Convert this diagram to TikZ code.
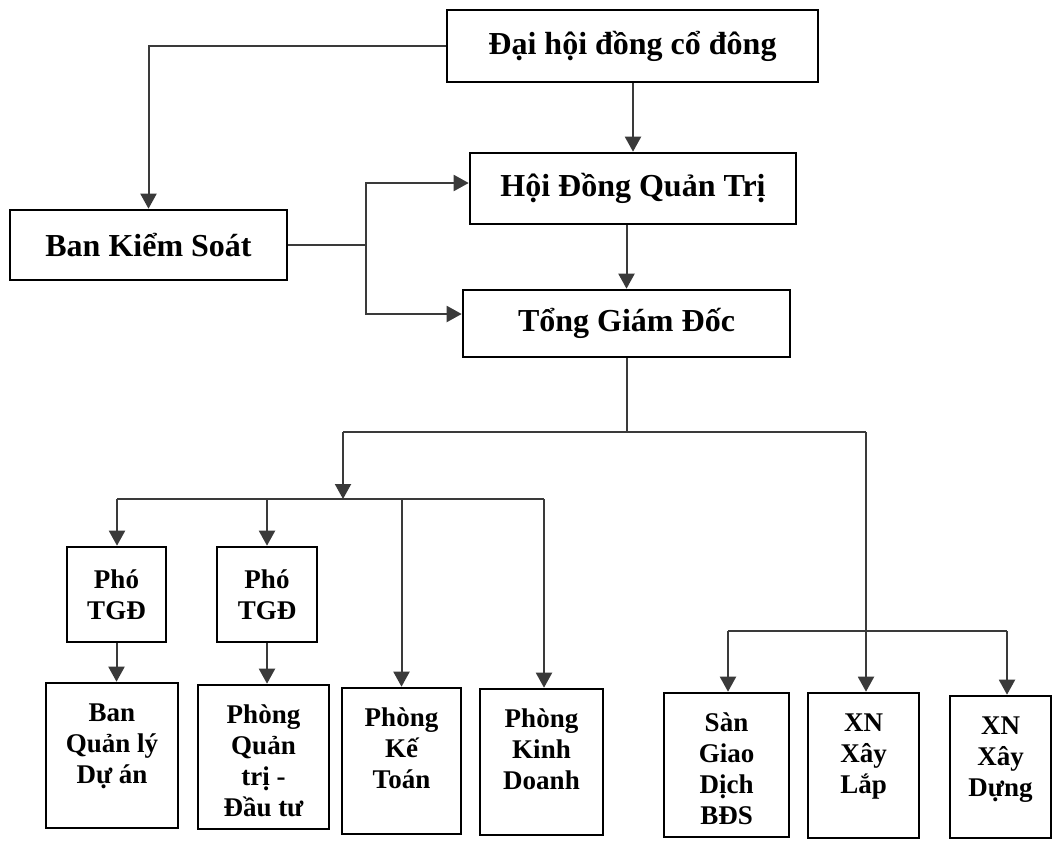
\documentclass[tikz,border=0pt]{standalone}
\usepackage{fontspec}
\setmainfont{Liberation Serif}
\usetikzlibrary{arrows.meta,calc}
\definecolor{linegray}{HTML}{3A3A3A}
\tikzset{
  >={Triangle[width=8pt,length=7.5pt]},
  link/.style={draw=linegray, line width=1pt},
  bigbox/.style={draw, line width=1.3pt, align=center,
    font=\fontsize{16}{19}\selectfont\bfseries},
  phobox/.style={draw, line width=1.3pt, align=center,
    minimum width=50pt, minimum height=47.5pt,
    font=\fontsize{13.5}{15.5}\selectfont\bfseries},
  unitbox/.style 2 args={draw, line width=1.3pt, inner sep=0pt,
    font=\fontsize{13.5}{15.5}\selectfont\bfseries,
    execute at begin node={\begin{minipage}[c][#2][t]{#1}\centering\vspace*{8.6pt}\strut},
    execute at end node={\end{minipage}}},
}
\begin{document}
\begin{tikzpicture}[x=0.5pt,y=-0.5pt]
\useasboundingbox (0,0) rectangle (1052,840);

\node[bigbox, minimum width=185.5pt, minimum height=36pt] (dhd) at (632.5,46) {Đại hội đồng cổ đông};
\node[bigbox, minimum width=138.5pt, minimum height=35pt] (bks) at (148.5,245) {Ban Kiểm Soát};
\node[bigbox, minimum width=163pt, minimum height=35.5pt] (hdqt) at (633,188.5) {Hội Đồng Quản Trị};
\node[bigbox, minimum width=163.5pt, minimum height=33.5pt] (tgd) at (626.5,323.5) {Tổng Giám Đốc};

\node[phobox, minimum width=49.5pt] (pho1) at (116.5,594.5) {Phó\\TGĐ};
\node[phobox] (pho2) at (267,594.5) {Phó\\TGĐ};

\node[unitbox={66pt}{72.5pt}] (banql) at (112,755.5) {Ban\\Quản lý\\Dự án};
\node[unitbox={65.5pt}{72pt}] (pqtdt) at (263.5,757) {Phòng\\Quản\\trị -\\Đầu tư};
\node[unitbox={59.5pt}{73pt}] (pkt) at (401.5,761) {Phòng\\Kế\\Toán};
\node[unitbox={61.5pt}{73pt}] (pkd) at (541.5,762) {Phòng\\Kinh\\Doanh};
\node[unitbox={62.5pt}{72pt}] (san) at (726.5,765) {Sàn\\Giao\\Dịch\\BĐS};
\node[unitbox={55.5pt}{72.5pt}] (xnxl) at (863.5,765.5) {XN\\Xây\\Lắp};
\node[unitbox={50.5pt}{71pt}] (xnxd) at (1000.5,767) {XN\\Xây\\Dựng};

\coordinate (split) at (366,245);
\coordinate (bus1l) at (343,432);
\coordinate (bus1r) at (866,432);
\coordinate (bus2l) at (117,499);
\coordinate (bus2r) at (544,499);
\coordinate (bus3l) at (728,631);
\coordinate (bus3r) at (1007,631);

\draw[link,->] (dhd.west) -| (bks.north);
\draw[link,->] (dhd.south -| hdqt.north) -- (hdqt.north);
\draw[link,->] (hdqt.south -| tgd.north) -- (tgd.north);
\draw[link] (bks.east) -- (split);
\draw[link,->] (split) |- ([yshift=2.75pt]hdqt.west);
\draw[link,->] (split) |- ([yshift=4.75pt]tgd.west);

\draw[link] (tgd.south) -- (tgd.south |- bus1l);
\draw[link] (bus1l) -- (bus1r);
\draw[link,->] (bus1l) -- (bus1l |- bus2l);
\draw[link] (bus2l) -- (bus2r);
\draw[link,->] (bus2l) -- (bus2l |- pho1.north);
\draw[link,->] (pho2.north |- bus2l) -- (pho2.north);
\draw[link,->] (pkt.north |- bus2l) -- (pkt.north);
\draw[link,->] (bus2r) -- (bus2r |- pkd.north);
\draw[link,->] (pho1.south) -- (pho1.south |- banql.north);
\draw[link,->] (pho2.south) -- (pho2.south |- pqtdt.north);

\draw[link,->] (bus1r) -- (bus1r |- xnxl.north);
\draw[link] (bus3l) -- (bus3r);
\draw[link,->] (bus3l) -- (bus3l |- san.north);
\draw[link,->] (bus3r) -- (bus3r |- xnxd.north);
\end{tikzpicture}
\end{document}
